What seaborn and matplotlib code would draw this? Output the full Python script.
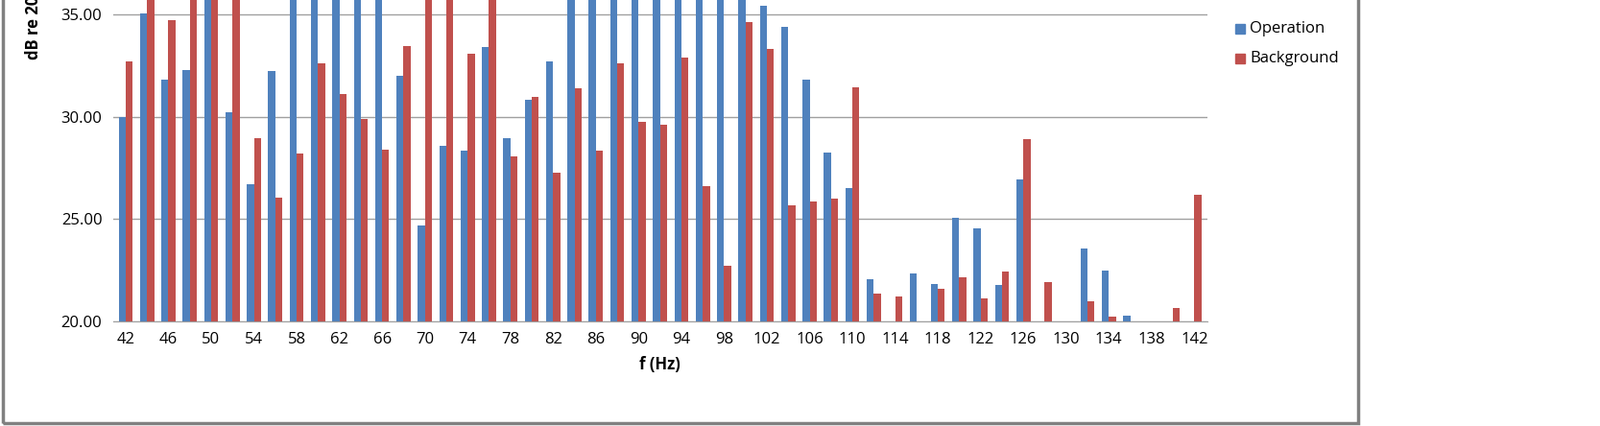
import pandas as pd
import seaborn as sns
import matplotlib.pyplot as plt
from matplotlib.patches import Rectangle

# frequencies (Hz); bars above the cropped top are given 38 (clipped in the picture)
freqs = list(range(42, 144, 2))
operation = [30.0, 35.05, 31.8, 32.3, 38, 30.2, 26.7, 32.25, 38, 38,
             38, 38, 38, 32.0, 24.7, 28.6, 28.35, 33.4, 28.95, 30.85,
             32.7, 38, 38, 38, 38, 38, 38, 38, 38, 38,
             35.4, 34.4, 31.8, 28.25, 26.5, 22.05, 19.95, 22.35, 21.85, 25.05,
             24.55, 21.8, 26.95, 19.95, 19.95, 23.55, 22.5, 20.3, 19.95, 19.95,
             19.95]
background = [32.7, 38, 34.7, 38, 38, 38, 28.95, 26.05, 28.2, 32.6,
              31.1, 29.9, 28.4, 33.45, 38, 38, 33.1, 38, 28.05, 30.95,
              27.25, 31.4, 28.35, 32.6, 29.75, 29.6, 32.9, 26.6, 22.75, 34.6,
              33.3, 25.7, 25.85, 26.0, 31.45, 21.35, 21.25, 19.95, 21.6, 22.15,
              21.15, 22.45, 28.9, 21.95, 19.95, 21.0, 20.25, 19.95, 19.95, 20.65,
              26.2]
yticks = [20, 25, 30, 35]

df = pd.DataFrame({
    "f": freqs * 2,
    "dB": operation + background,
    "series": ["Operation"] * len(freqs) + ["Background"] * len(freqs),
})

plt.rcParams["font.family"] = "Open Sans"
fig = plt.figure(figsize=(16.67, 4.44), dpi=100)
ax = fig.add_axes([0.0705, 0.245, 0.684, 0.755])
sns.barplot(data=df, x="f", y="dB", hue="series", ax=ax, width=0.66,
            palette={"Operation": "#4F81BD", "Background": "#C0504D"},
            saturation=1, legend=False)

ax.set_ylim(20, 35.7)
ax.set_xlim(-0.6, len(freqs) - 0.4)
ax.set_yticks(yticks)
ax.set_yticklabels([f"{v:.2f}" for v in yticks], fontsize=12)
ax.set_xticks(range(0, len(freqs), 2))
ax.set_xticklabels([str(f) for f in freqs[::2]], fontsize=12)
ax.tick_params(length=0, pad=8)
ax.yaxis.grid(True, color="#A0A0A0", lw=1)
ax.set_axisbelow(True)
for s in ["top", "right", "left"]:
    ax.spines[s].set_visible(False)
ax.spines["bottom"].set_color("#A0A0A0")
ax.set_xlabel("f (Hz)", fontsize=12, weight="bold", labelpad=6)
ax.set_ylabel("")
fig.text(0.021, (444 - 62) / 444, "dB re 20 µPa", rotation=90, ha="center",
         va="bottom", fontsize=12, weight="bold")

# legend
for i, (name, col) in enumerate([("Operation", "#4F81BD"), ("Background", "#C0504D")]):
    yy = 1 - (30 + 31 * i) / 444
    fig.patches.append(Rectangle((1287 / 1667, yy - 0.012), 10 / 1667, 10 / 444,
                                 color=col, transform=fig.transFigure))
    fig.text(1302 / 1667, yy, name, fontsize=12, va="center")

# outer frame
fig.patches.append(Rectangle((3 / 1667, 3 / 444), 1412 / 1667, 1.1, fill=False,
                             ec="#808080", lw=2.5, transform=fig.transFigure))

fig.savefig("out.png", dpi=100)
